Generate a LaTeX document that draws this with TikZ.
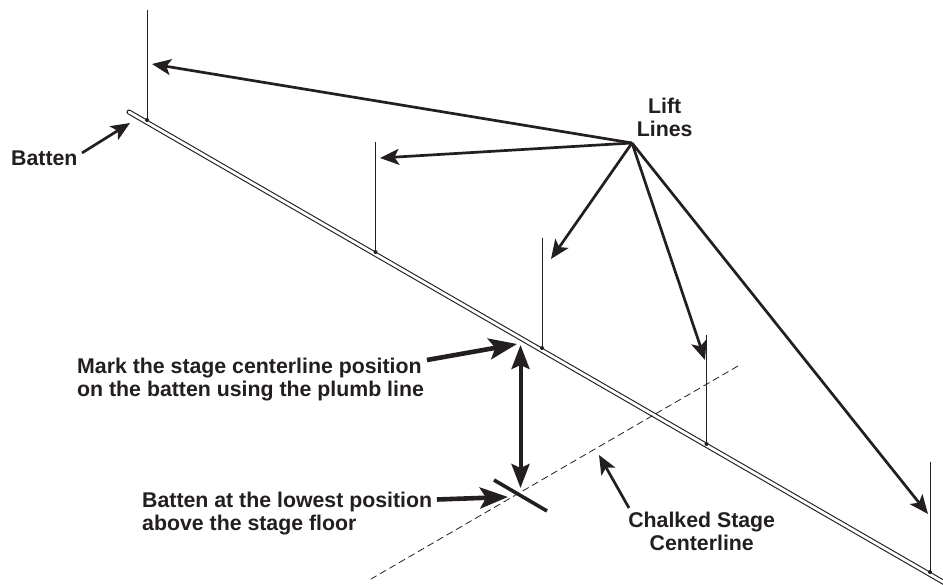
\documentclass[tikz,border=0pt]{standalone}
\usepackage{fontspec}
\setmainfont{Liberation Sans}
\usetikzlibrary{arrows.meta}
\definecolor{ink}{RGB}{35,31,32}
\tikzset{
  lbl/.style={font=\bfseries\fontsize{21.3pt}{23pt}\selectfont, text=ink, inner sep=0pt, align=left},
  lblc/.style={lbl, align=center},
  ptr/.style={draw=ink, line width=2.7pt, -{Stealth[length=19pt,width=16pt,inset=4.5pt]}},
  ptrb/.style={draw=ink, line width=4.6pt, -{Stealth[length=28pt,width=21pt,inset=6pt]}},
  dbl/.style={draw=ink, line width=4pt, {Stealth[length=24pt,width=18pt,inset=4pt]}-{Stealth[length=24pt,width=18pt,inset=4pt]}},
  lift/.style={draw=ink, line width=1pt},
  knot/.style={circle, fill=ink, inner sep=0pt, minimum size=4pt},
  battenout/.style={draw=ink, line width=5pt, line cap=round},
  battenin/.style={draw=white, line width=2.8pt, line cap=round},
  chalk/.style={draw=ink, line width=0.8pt, dash pattern=on 7pt off 4pt},
}
\begin{document}
\begin{tikzpicture}[x=1pt,y=-1pt]
\useasboundingbox (0,0) rectangle (943,585);
\fill[white] (0,0) rectangle (943,585);
% batten
\coordinate (bs) at (129,112);
\coordinate (be) at (950,586);
\draw[battenout] (bs) -- (be);
\draw[battenin] (bs) -- (be);
% lift lines
\coordinate (t1) at (147,10);   \node[knot] (k1) at (147,120) {};
\coordinate (t2) at (375.5,142);\node[knot] (k2) at (375.5,252) {};
\coordinate (t3) at (542,238);  \node[knot] (k3) at (542,348) {};
\coordinate (t4) at (706.5,335);\node[knot] (k4) at (706.5,444) {};
\coordinate (t5) at (930,462);  \node[knot] (k5) at (930,572) {};
\foreach \i in {1,...,5} \draw[lift] (t\i) -- (k\i.center);
% chalk line
\coordinate (c1) at (738,366);
\coordinate (c2) at (371,579);
\draw[chalk] (c1) -- (c2);
% lowest position bar
\coordinate (m1) at (494,480);
\coordinate (m2) at (547,511);
\draw[draw=ink, line width=3.6pt] (m1) -- (m2);
% labels
\node[lbl, anchor=base west] (batten) at (11,165.7) {Batten};
\node[lblc, anchor=base] (lift) at (664.7,137) {Lift\\Lines};
\node[lbl, anchor=base west] (mark) at (77,396) {Mark the stage centerline position\\on the batten using the plumb line};
\node[lbl, anchor=base west] (low) at (142,530.5) {Batten at the lowest position\\above the stage floor};
\node[lblc, anchor=base] (chalked) at (701.7,550.5) {Chalked Stage\\Centerline};
% arrows
\coordinate (hub) at (632,143);
\coordinate (a1) at (152,64);
\coordinate (a2) at (380,158);
\coordinate (a3) at (551,259);
\coordinate (a4) at (705,360);
\coordinate (a5) at (928,514);
\foreach \i in {1,...,5} \draw[ptr] (hub) -- (a\i);
\coordinate (ba) at (130,123);
\draw[ptr] (82,153) -- (ba);
\coordinate (ma) at (517,344);
\draw[ptrb] (427,360) -- (ma);
\coordinate (d1) at (520.5,345);
\coordinate (d2) at (520.5,488);
\draw[dbl] (d1) -- (d2);
\coordinate (la) at (508,497);
\draw[ptrb] (437,499.5) -- (la);
\coordinate (ca) at (599,455);
\draw[ptr] (629,508) -- (ca);
\end{tikzpicture}
\end{document}
